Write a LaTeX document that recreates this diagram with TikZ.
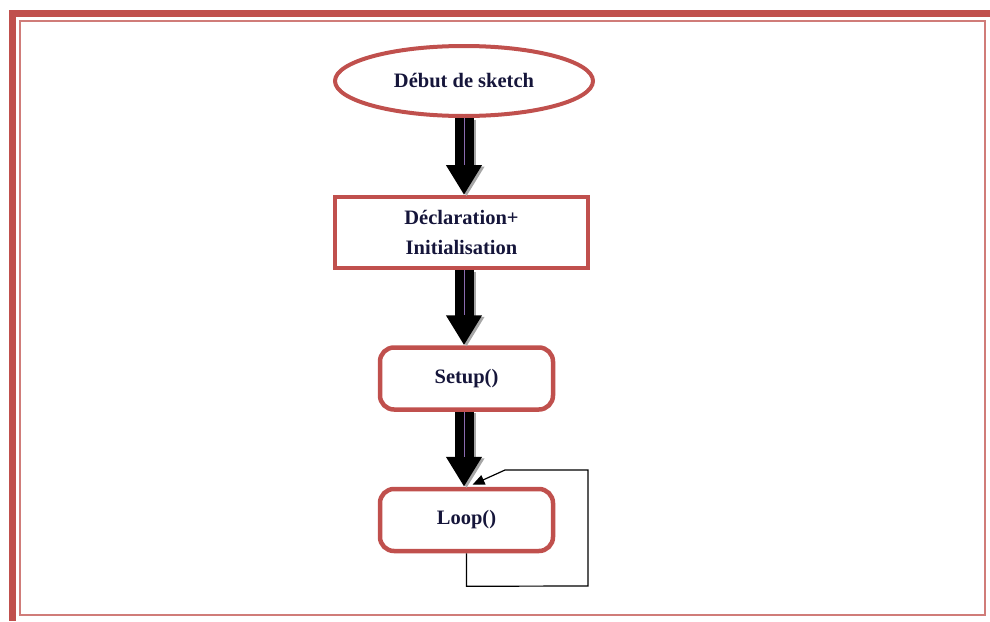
\documentclass[tikz,border=0pt]{standalone}
\usepackage{fontspec}
\setmainfont{Liberation Serif}
\usetikzlibrary{shapes.geometric,arrows.meta,calc}
\definecolor{frred}{HTML}{C0504D}
\definecolor{txt}{HTML}{15153A}
\definecolor{shaftline}{HTML}{8A6AB0}
\tikzset{
  lbl/.style={font=\fontsize{20.5}{30}\selectfont\bfseries, text=txt, align=center},
  startnode/.style={ellipse, draw=frred, line width=4, minimum width=258, minimum height=70, inner sep=0, lbl},
  plainbox/.style={rectangle, draw=frred, line width=4, minimum width=253, minimum height=71, inner sep=0, lbl},
  roundbox/.style={rectangle, rounded corners=14, draw=frred, line width=4.5, minimum width=173, minimum height=62, inner sep=0, lbl},
  bigarrow/.style={line width=19, draw=black, -{Triangle[length=30,width=34]}},
  shadowarrow/.style={line width=19, draw=black!35, -{Triangle[length=30,width=34]}},
  backline/.style={line width=1.2, draw=black, -{Triangle[length=12,width=10]}}
}
\begin{document}
\begin{tikzpicture}[x=1pt,y=-1pt]
\useasboundingbox (0,0) rectangle (990,621);
% frame
\draw[frred, line width=7] (990,13.5) -- (12,13.5) -- (12,621);
\draw[frred!75, line width=2.2] (20,21) rectangle (985,615);
% nodes
\node[startnode] (deb) at (464,81) {\raisebox{2pt}{Début de sketch}};
\node[plainbox] (decl) at (461.5,232.5) {Déclaration+\\Initialisation};
\node[roundbox] (setup) at (466.5,378.5) {Setup()};
\node[roundbox] (loop) at (466.5,520) {Loop()};
% block arrows
\foreach \a/\b in {deb/decl, decl/setup, setup/loop}{
  \draw[shadowarrow, transform canvas={xshift=2.5pt, yshift=-1.5pt}] (deb.south |- \a.south) -- (deb.south |- \b.north);
  \draw[bigarrow] (deb.south |- \a.south) -- (deb.south |- \b.north);
  \draw[shaftline, line width=0.8] (deb.south |- \a.south) -- ($(deb.south |- \b.north)+(0,-30)$);
}
% loop back
\coordinate (c1) at ($(loop.south)+(0,33)$);
\coordinate (c2) at (588,586);
\coordinate (c3) at (588,470);
\coordinate (c4) at (505,470);
\coordinate (tip) at ($(loop.north)+(6,-2)$);
\draw[backline] (loop.south) -- (c1) -- (c2) -- (c3) -- (c4) -- (tip);
\end{tikzpicture}
\end{document}
